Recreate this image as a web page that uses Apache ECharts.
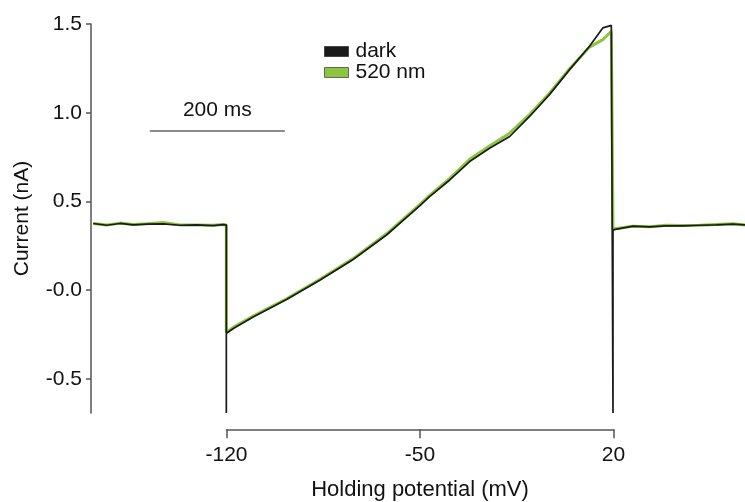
<!DOCTYPE html>
<html><head><meta charset="utf-8">
<script src="https://cdn.jsdelivr.net/npm/echarts@6/dist/echarts.min.js"></script>
<style>html,body{margin:0;padding:0;background:#fff}#c{width:745px;height:502px}</style>
</head><body><div id="c"></div>
<script>
// Holding potential (mV) and current (nA)
const darkV = [-168.2, -163.3, -158.5, -153.7, -148.9, -142.9, -136.8, -130.8, -124.8, -121.2, -120, -120, -120, -117, -110.3, -98.2, -86.2, -74.1, -62, -50, -46.4, -39.1, -31.9, -24.7, -17.4, -10.2, -3.0, 4.3, 11.5, 16.3, 19.4, 20, 20, 20, 20.7, 27.2, 33.2, 39.3, 45.3, 51.3, 57.4, 63.4, 67.8];
const darkI = [0.376, 0.366, 0.376, 0.368, 0.372, 0.374, 0.366, 0.368, 0.364, 0.370, 0.368, -0.692, -0.243, -0.212, -0.151, -0.053, 0.056, 0.173, 0.311, 0.475, 0.527, 0.621, 0.725, 0.800, 0.866, 0.979, 1.102, 1.243, 1.375, 1.478, 1.492, 1.495, -0.692, 0.34, 0.348, 0.361, 0.357, 0.362, 0.362, 0.366, 0.368, 0.372, 0.368];
const greenV = [-168.2, -163.3, -158.5, -153.7, -148.9, -142.9, -136.8, -130.8, -124.8, -121.2, -120, -120, -117, -110.3, -98.2, -86.2, -74.1, -62, -50, -46.4, -39.1, -31.9, -24.7, -17.4, -10.2, -3.0, 4.3, 11.5, 16.3, 19.4, 20, 20, 20.7, 27.2, 33.2, 39.3, 45.3, 51.3, 57.4, 63.4, 67.8];
const greenI = [0.376, 0.368, 0.378, 0.370, 0.374, 0.382, 0.368, 0.368, 0.366, 0.370, 0.368, -0.238, -0.205, -0.146, -0.048, 0.060, 0.178, 0.318, 0.482, 0.534, 0.630, 0.738, 0.812, 0.885, 0.990, 1.110, 1.248, 1.370, 1.412, 1.459, 1.46, 0.345, 0.350, 0.360, 0.358, 0.366, 0.364, 0.366, 0.370, 0.374, 0.368];
const xTicks = [-120, -50, 20];
const yTicks = [-0.5, 0, 0.5, 1.0, 1.5];
const scaleBarV = [-147.7, -98.8];
const scaleBarI = 0.896;
const scaleBarLabel = '200 ms';
const seriesNames = ['dark', '520 nm'];

const FONT = 'Liberation Sans, Arial, sans-serif';
const AX = '#555';
const zip = (a, b) => a.map((v, i) => [v, b[i]]);

const chart = echarts.init(document.getElementById('c'), null, {renderer: 'canvas'});
chart.setOption({
  animation: false,
  textStyle: {fontFamily: FONT},
  grid: [
    {left: 91, right: 0, top: 24, bottom: 89},
    {left: 226.5, width: 387, bottom: 72, height: 1}
  ],
  legend: {
    orient: 'vertical', left: 319, top: 36, itemWidth: 24, itemHeight: 10, itemGap: 0,
    icon: 'rect',
    textStyle: {fontSize: 21, color: '#111', fontFamily: FONT, padding: [0, 0, 0, 2]},
    data: [
      {name: seriesNames[0], itemStyle: {color: '#1a1a1a', borderColor: '#444', borderWidth: 1}},
      {name: seriesNames[1], itemStyle: {color: '#8cc63e', borderColor: '#666', borderWidth: 1}}
    ]
  },
  xAxis: [
    {gridIndex: 0, type: 'value', min: -169, max: 67.8, show: false},
    {gridIndex: 1, type: 'value', min: -120, max: 20, position: 'bottom',
      axisLine: {show: true, lineStyle: {color: AX, width: 1.5}},
      axisTick: {show: true, length: 9, customValues: xTicks, lineStyle: {color: AX, width: 1.5}},
      axisLabel: {customValues: xTicks, fontSize: 21, color: '#111', margin: 15, fontFamily: FONT},
      splitLine: {show: false},
      name: 'Holding potential (mV)', nameLocation: 'middle', nameGap: 50,
      nameTextStyle: {fontSize: 22, color: '#111', fontFamily: FONT}}
  ],
  yAxis: [
    {gridIndex: 0, type: 'value', min: -0.692, max: 1.5,
      axisLine: {show: true, onZero: false, lineStyle: {color: AX, width: 1.5}},
      axisTick: {show: true, length: 5, customValues: yTicks, lineStyle: {color: AX, width: 1.5}},
      axisLabel: {customValues: yTicks, fontSize: 21, color: '#111', margin: 9, fontFamily: FONT,
        formatter: v => (v === 0 ? '-0.0' : v.toFixed(1))},
      splitLine: {show: false},
      name: 'Current (nA)', nameLocation: 'middle', nameGap: 58,
      nameTextStyle: {fontSize: 21, color: '#111', fontFamily: FONT}},
    {gridIndex: 1, type: 'value', show: false}
  ],
  series: [
    {name: seriesNames[1], type: 'line', xAxisIndex: 0, yAxisIndex: 0, data: zip(greenV, greenI),
      showSymbol: false, color: '#8cc63e', lineStyle: {width: 3, color: '#8cc63e'}},
    {name: seriesNames[0], type: 'line', xAxisIndex: 0, yAxisIndex: 0, data: zip(darkV, darkI),
      showSymbol: false, color: '#1a1a1a', lineStyle: {width: 1.7, color: '#1a1a1a'},
      markLine: {silent: true, symbol: 'none', animation: false,
        lineStyle: {color: '#666', width: 1.5, type: 'solid'},
        label: {show: true, position: 'insideMiddleTop', distance: 10, formatter: scaleBarLabel,
          fontSize: 21, color: '#111', fontFamily: FONT},
        data: [[{coord: [scaleBarV[0], scaleBarI]}, {coord: [scaleBarV[1], scaleBarI]}]]}}
  ]
});
</script></body></html>
